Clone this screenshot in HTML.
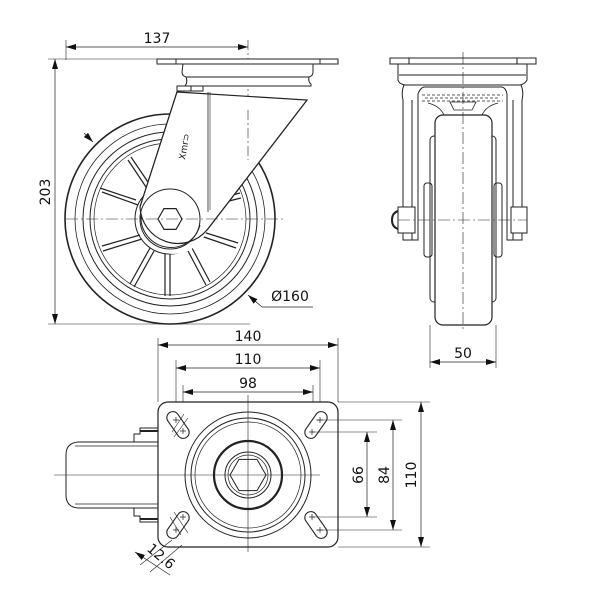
<!DOCTYPE html>
<html><head><style>html,body{margin:0;padding:0;background:#fff}svg{display:block}text{font-family:"DejaVu Sans","Liberation Sans",sans-serif;fill:#111}</style></head>
<body>
<svg width="600" height="600" viewBox="0 0 600 600" xmlns="http://www.w3.org/2000/svg">
<defs>
<marker id="a" viewBox="0 0 10 6" refX="10" refY="3" markerWidth="10" markerHeight="6" orient="auto-start-reverse" markerUnits="userSpaceOnUse"><path d="M0,0L10,3L0,6z" fill="#111"/></marker>
</defs>
<g fill="none" stroke="#222" stroke-width="1">
<!-- ===== Front view ===== -->
<line x1="66" y1="40" x2="66" y2="60" stroke-width="0.6"/>
<line x1="248" y1="40" x2="248" y2="110" stroke-width="0.6" stroke-dasharray="10,3,2,3"/>
<line x1="66" y1="47" x2="248" y2="47" stroke-width="0.7" marker-start="url(#a)" marker-end="url(#a)"/>
<line x1="48" y1="59" x2="158" y2="59" stroke-width="0.6"/>
<line x1="48" y1="324" x2="250" y2="324" stroke-width="0.6"/>
<line x1="55" y1="59" x2="55" y2="324" stroke-width="0.7" marker-start="url(#a)" marker-end="url(#a)"/>
<!-- wheel -->
<circle cx="170" cy="219" r="105" stroke-width="1.6"/>
<circle cx="170" cy="219" r="95" stroke-width="0.8"/>
<circle cx="170" cy="219" r="87"/>
<circle cx="170" cy="219" r="80"/>
<circle cx="170" cy="219" r="76" stroke-width="0.7"/>
<circle cx="170" cy="219" r="35"/>
<circle cx="170" cy="219" r="30"/>
<circle cx="170" cy="219" r="25" stroke-width="0.7"/>
<g stroke-width="1.2">
<line x1="170" y1="254" x2="170" y2="296"/><line x1="165" y1="254" x2="165" y2="296"/>
<line x1="150" y1="248" x2="130" y2="284"/><line x1="154" y1="251" x2="134" y2="287"/>
<line x1="140" y1="235" x2="102" y2="246"/><line x1="142" y1="239" x2="103" y2="251"/>
<line x1="138" y1="205" x2="102" y2="192"/><line x1="136" y1="200" x2="100" y2="188"/>
<line x1="148" y1="190" x2="128" y2="160"/><line x1="152" y1="188" x2="131" y2="157"/>
<line x1="192" y1="248" x2="210" y2="282"/><line x1="188" y1="251" x2="206" y2="285"/>
<line x1="203" y1="232" x2="238" y2="243"/><line x1="201" y1="236" x2="236" y2="248"/>
<line x1="206" y1="202" x2="240" y2="193"/><line x1="205" y1="207" x2="241" y2="198"/>
</g>
<!-- fork -->
<path d="M177,92 L140,207 M307,100 L207,230" stroke-width="1.2"/>
<path d="M140,207 A33,33 0 0 0 207,230" fill="#fff" stroke="none"/>
<path d="M177,92 L307,100 L207,230 A38,38 0 0 1 140,207 Z" fill="#fff" stroke="#222" stroke-width="1.2"/>
<circle cx="170" cy="219" r="30" fill="none"/>
<path d="M141,216 A30,30 0 0 0 200,225" stroke-width="1"/>
<line x1="208" y1="92" x2="208" y2="212" stroke-width="0.8"/>
<line x1="210" y1="92" x2="210" y2="210" stroke-width="0.6"/>
<polygon points="158,219 164,208.6 176,208.6 182,219 176,229.4 164,229.4" fill="#fff" stroke-width="1.2"/>
<line x1="66" y1="219" x2="283" y2="219" stroke-width="0.6" stroke-dasharray="12,3,2,3"/>
<line x1="248" y1="110" x2="248" y2="160" stroke-width="0.6" stroke-dasharray="10,3,2,3"/>
<!-- top plate -->
<rect x="157" y="59" width="181" height="5" fill="#fff"/>
<line x1="176" y1="59" x2="176" y2="64"/><line x1="320" y1="59" x2="320" y2="64"/>
<path d="M183,64 L313,64 L313,72 Q313,76 309,77 L186,77 Q182,76 182,72 Z" fill="#fff"/>
<path d="M186,77 L309,77 Q308,82 311,84 L311,86 L185,86 Q188,82 186,77 Z" fill="#fff"/>
<line x1="185" y1="86" x2="311" y2="86"/>
<rect x="177" y="86" width="26" height="5" fill="#fff"/>
<line x1="191" y1="86" x2="191" y2="91"/>
<text x="185" y="160" font-size="9" transform="rotate(-80 185 160)" stroke="none">Xmr⊃</text>
<!-- leaders -->
<line x1="84" y1="133" x2="93" y2="142" stroke-width="0.7" marker-end="url(#a)"/>
<line x1="262" y1="307" x2="248" y2="295" stroke-width="0.7" marker-end="url(#a)"/>
<line x1="262" y1="307" x2="313" y2="307" stroke-width="0.7"/>

<!-- ===== Side view ===== -->
<rect x="390" y="58" width="146" height="6" fill="#fff"/>
<line x1="409" y1="58" x2="409" y2="64"/><line x1="517" y1="58" x2="517" y2="64"/>
<path d="M398,64 L527,64 L527,80 Q525,84 520,85 L405,85 Q399,84 398,80 Z"/>
<line x1="399" y1="75" x2="526" y2="75"/>
<path d="M404,85 Q401,92 403,100 L403,240 L418,240 L418,94 Q420,88 424,87 L502,87 Q506,88 507,94 L507,240 L522,240 L522,100 Q524,92 521,85"/>
<line x1="412" y1="100" x2="412" y2="240"/><line x1="513" y1="100" x2="513" y2="240"/>
<path d="M422,95 L503,95 M422,101 L503,101 M425,98 L500,98" stroke-width="0.8" stroke-dasharray="3,2"/>
<path d="M450,102 L476,102 L472,110 L454,110 Z" stroke-width="0.8"/>
<path d="M428,103 Q440,106 444,115 M498,103 Q486,106 482,115" stroke-width="0.8"/>
<rect x="424" y="183" width="8" height="74" rx="3"/>
<rect x="494" y="183" width="8" height="74" rx="3"/>
<rect x="430" y="136" width="66" height="166" rx="4"/>
<rect x="435" y="115" width="57" height="210" rx="8" fill="#fff" stroke-width="1.2"/>
<rect x="398" y="207" width="17" height="26" fill="#fff"/>
<rect x="511" y="207" width="16" height="26" fill="#fff"/>
<path d="M398,211 Q392,213 392,220 Q392,227 398,229" stroke-width="2"/>
<line x1="398" y1="220" x2="527" y2="220" stroke-width="0.6" stroke-dasharray="12,3,2,3"/>
<line x1="463" y1="52" x2="463" y2="330" stroke-width="0.6" stroke-dasharray="12,3,2,3"/>
<line x1="430" y1="325" x2="430" y2="368" stroke-width="0.6"/>
<line x1="496" y1="325" x2="496" y2="368" stroke-width="0.6"/>
<line x1="430" y1="362" x2="496" y2="362" stroke-width="0.7" marker-start="url(#a)" marker-end="url(#a)"/>

<!-- ===== Bottom view ===== -->
<line x1="158" y1="338" x2="158" y2="402" stroke-width="0.6"/>
<line x1="338" y1="338" x2="338" y2="402" stroke-width="0.6"/>
<line x1="158" y1="345" x2="338" y2="345" stroke-width="0.7" marker-start="url(#a)" marker-end="url(#a)"/>
<line x1="176" y1="360" x2="176" y2="425" stroke-width="0.6"/>
<line x1="320" y1="360" x2="320" y2="425" stroke-width="0.6"/>
<line x1="176" y1="368" x2="320" y2="368" stroke-width="0.7" marker-start="url(#a)" marker-end="url(#a)"/>
<line x1="183" y1="385" x2="183" y2="432" stroke-width="0.6"/>
<line x1="313" y1="385" x2="313" y2="432" stroke-width="0.6"/>
<line x1="183" y1="392" x2="313" y2="392" stroke-width="0.7" marker-start="url(#a)" marker-end="url(#a)"/>
<!-- wheel from below -->
<path d="M158,442 L78,442 Q66,443 66,455 L66,495 Q66,507 78,508 L158,508" fill="#fff"/>
<line x1="75" y1="446" x2="158" y2="446" stroke-width="0.7"/>
<line x1="75" y1="504" x2="158" y2="504" stroke-width="0.7"/>
<path d="M134,442 L134,434 L140,434 L140,428 L158,428 M134,508 L134,516 L140,516 L140,522 L158,522"/>
<line x1="140" y1="431" x2="158" y2="431" stroke-width="2"/>
<line x1="140" y1="519" x2="158" y2="519" stroke-width="2"/>
<!-- plate -->
<rect x="158" y="402" width="180" height="145" rx="10" fill="#fff" stroke-width="1.2"/>
<line x1="338" y1="402" x2="430" y2="402" stroke-width="0.6"/>
<line x1="338" y1="547" x2="430" y2="547" stroke-width="0.6"/>
<line x1="316" y1="420" x2="402" y2="420" stroke-width="0.6"/>
<line x1="316" y1="530" x2="402" y2="530" stroke-width="0.6"/>
<line x1="312" y1="432" x2="377" y2="432" stroke-width="0.6"/>
<line x1="312" y1="517" x2="377" y2="517" stroke-width="0.6"/>
<line x1="367" y1="432" x2="367" y2="517" stroke-width="0.7" marker-start="url(#a)" marker-end="url(#a)"/>
<line x1="393" y1="420" x2="393" y2="530" stroke-width="0.7" marker-start="url(#a)" marker-end="url(#a)"/>
<line x1="421" y1="402" x2="421" y2="547" stroke-width="0.7" marker-start="url(#a)" marker-end="url(#a)"/>
<!-- slots -->
<g stroke-width="1.1">
<rect x="-6" y="-15" width="12" height="30" rx="6" transform="translate(178,425) rotate(-35)"/>
<rect x="-6" y="-15" width="12" height="30" rx="6" transform="translate(316,425) rotate(35)"/>
<rect x="-6" y="-15" width="12" height="30" rx="6" transform="translate(178,525) rotate(35)"/>
<rect x="-6" y="-15" width="12" height="30" rx="6" transform="translate(316,525) rotate(-35)"/>
</g>
<g stroke-width="0.7">
<path d="M173,420 h6 M176,417 v6 M180,431 h6 M183,428 v6"/>
<path d="M317,420 h6 M320,417 v6 M309,432 h6 M312,429 v6"/>
<path d="M180,517 h6 M183,514 v6 M173,530 h6 M176,527 v6"/>
<path d="M309,517 h6 M312,514 v6 M317,530 h6 M320,527 v6"/>
<path d="M172,432 L184,414 M174,437 L188,418 M174,512 L188,533 M170,517 L181,535" stroke-width="0.6"/>
</g>
<circle cx="248" cy="475" r="63"/>
<circle cx="248" cy="475" r="57"/>
<circle cx="248" cy="475" r="53" stroke-width="0.7"/>
<circle cx="248" cy="475" r="34" stroke-width="2.2"/>
<circle cx="248" cy="475" r="23"/>
<circle cx="248" cy="475" r="20" stroke-width="0.7"/>
<polygon points="266,475 257,459.4 239,459.4 230,475 239,490.6 257,490.6"/>
<line x1="54" y1="475" x2="320" y2="475" stroke-width="0.6"/>
<line x1="248" y1="395" x2="248" y2="552" stroke-width="0.6"/>
<!-- 12.6 -->
<line x1="172" y1="540" x2="140" y2="565" stroke-width="0.6"/>
<line x1="182" y1="545" x2="150" y2="572" stroke-width="0.6"/>
<line x1="135" y1="552" x2="170" y2="575" stroke-width="0.7" marker-start="url(#a)"/>
</g>
<g font-size="14" text-anchor="middle">
<text x="157" y="43">137</text>
<text x="50" y="192" transform="rotate(-90 50 192)">203</text>
<text x="290" y="301">Ø160</text>
<text x="463" y="358">50</text>
<text x="248" y="341">140</text>
<text x="248" y="364">110</text>
<text x="248" y="388">98</text>
<text x="363" y="475" transform="rotate(-90 363 475)">66</text>
<text x="389" y="475" transform="rotate(-90 389 475)">84</text>
<text x="416" y="475" transform="rotate(-90 416 475)">110</text>
<text x="158" y="560" transform="rotate(40 158 560)">12.6</text>
</g>
</svg>
</body></html>
